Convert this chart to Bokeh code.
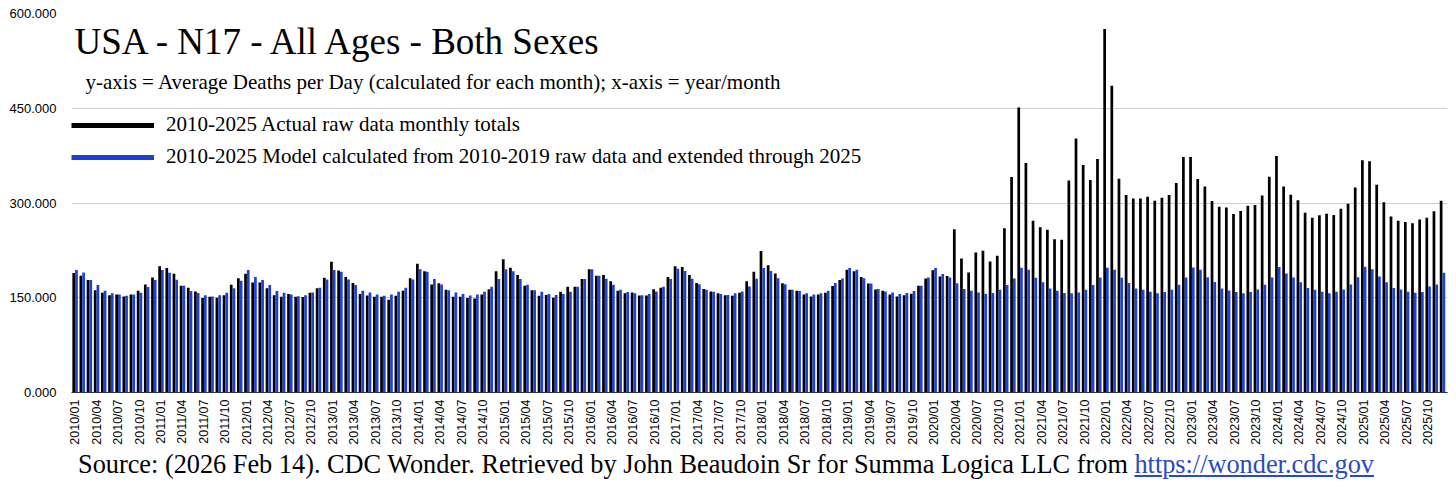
import math
from bokeh.plotting import figure
from bokeh.layouts import column
from bokeh.models import (Range1d, FixedTicker, PrintfTickFormatter, Label, Legend,
                          LegendItem, ColumnDataSource, Div)
from bokeh.transform import dodge
from bokeh.embed import file_html
from bokeh.resources import INLINE

# ---------------- data ----------------
years = list(range(2010, 2026))
months = [f"{y}/{m:02d}" for y in years for m in range(1, 13)]

actual = [
    189, 185, 178, 162, 158, 154, 155, 152, 155, 161, 171, 182,            # 2010
    200, 197, 188, 169, 166, 160, 149.5, 151.5, 150, 154, 170.5, 181,      # 2011
    188, 174, 174, 165, 154, 151.5, 156, 151.5, 151, 158, 165, 181.5,      # 2012
    207, 193, 183, 173.5, 156, 153.5, 151.5, 151.5, 147, 153, 161, 181,    # 2013
    204, 192, 171, 173, 162.5, 151.5, 151.5, 149.5, 149, 155, 163.5, 192,  # 2014
    211, 197.5, 186, 169, 162, 153, 154.5, 150, 159.5, 167.5, 167.5, 179.5,  # 2015
    195, 185, 186, 176, 161, 157, 158.5, 153.5, 153.5, 163.5, 166, 183,    # 2016
    200, 198.5, 186, 173.5, 164, 160, 157, 154, 153, 158, 176, 191,        # 2017
    224, 201.5, 188.5, 173, 162.5, 161, 155, 152, 155, 158, 168.5, 178,    # 2018
    194.5, 192, 183, 172.5, 163, 161, 155, 152, 154, 156.5, 169, 180.5,    # 2019
    193.5, 183.5, 184.5, 258.5, 212, 190, 221.5, 224.5, 207.5, 216.5, 260, 341,  # 2020
    451, 363.5, 272, 261.5, 257.5, 242.5, 242, 335.5, 402, 360, 336.5, 369.5,    # 2021
    575.5, 485.5, 338.5, 312.5, 307, 307, 310, 303.5, 308.5, 312.5, 331.5, 373,  # 2022
    373, 338, 326, 303, 294, 293, 282.5, 287.5, 295.5, 297, 312, 341.5,    # 2023
    374.5, 326, 313, 304.5, 284.5, 276.5, 280.5, 283, 281, 291, 299, 324.5,  # 2024
    367.5, 366, 329, 301, 278.5, 272, 270, 268, 274, 276.5, 287, 303.5,    # 2025
]

model = [
    194, 190, 178, 170, 161, 157, 155, 153, 155, 158, 167, 178,            # 2010
    194, 189.5, 178.5, 169, 160.5, 157.5, 154, 152, 154, 158, 165, 177,    # 2011
    194, 183, 178, 170, 160.5, 158, 155, 152.5, 154, 158.5, 166, 179,      # 2012
    194, 191, 179, 170, 161, 158.5, 155, 153, 155, 159.5, 166, 179,        # 2013
    195, 191, 179.5, 171, 162, 158.5, 156, 153.5, 155, 159.5, 167.5, 179.5,  # 2014
    195, 192, 179.5, 170.5, 162, 159.5, 156, 154.5, 156, 159.5, 167.5, 179.5,  # 2015
    195, 185, 180, 170.5, 162.5, 159, 157, 154, 156, 160, 167.5, 179.5,    # 2016
    196, 192.5, 180, 171.5, 162.5, 159.5, 156, 154.5, 157, 160, 168, 180,  # 2017
    197, 192.5, 181, 171.5, 162.5, 160.5, 157, 155, 157, 161, 173.5, 180.5,  # 2018
    197, 194.5, 181, 172.5, 164, 160, 158.5, 156, 157.5, 160.5, 169, 182,  # 2019
    197, 187.5, 182, 173, 164, 161, 158.5, 156.5, 157.5, 162.5, 170, 180.5,  # 2020
    197.5, 194.5, 181.5, 174.5, 164.5, 161, 157.5, 157, 158.5, 162.5, 170, 182,  # 2021
    197.5, 194.5, 181.5, 173.5, 164.5, 162.5, 159.5, 157, 159, 162.5, 170.5, 182,  # 2022
    198, 194.5, 182.5, 175, 164.5, 161.5, 159, 157, 159, 163, 170.5, 182,  # 2023
    198.5, 188.5, 182, 174.5, 165.5, 162.5, 159.5, 157, 159.5, 163, 171, 182.5,  # 2024
    199, 195, 183.5, 174.5, 165.5, 163, 159.5, 158, 159, 168, 171, 189.5,  # 2025
]

y_ticks = [0, 150, 300, 450, 600]
x_tick_step = 3

title_text = "USA - N17 - All Ages - Both Sexes"
subtitle_text = "y-axis = Average Deaths per Day (calculated for each month); x-axis = year/month"
legend_actual = "2010-2025 Actual raw data monthly totals"
legend_model = "2010-2025 Model calculated from 2010-2019 raw data and extended through 2025"
source_text = "Source: (2026 Feb 14). CDC Wonder. Retrieved by John Beaudoin Sr for Summa Logica LLC from"
source_url = "https://wonder.cdc.gov"

# ---------------- styles ----------------
BLACK = "#000000"
BLUE = "#1f40d8"
LINK = "#2a4ac2"
SERIF = "Liberation Serif"
SANS = "Liberation Sans"

X0, X1 = -0.5, 191.7
FRAME_L, FRAME_R, FRAME_T, FRAME_B = 71, 1447, 13, 392  # page px
FIG_W, FIG_H = 1452, 450


def xd(px):
    return X0 + (px - FRAME_L) * (X1 - X0) / (FRAME_R - FRAME_L)


def yd(py):
    return (FRAME_B - py) * 600 / (FRAME_B - FRAME_T)


src = ColumnDataSource(dict(idx=list(range(len(months))), actual=actual, model=model))

p = figure(width=FIG_W, height=FIG_H, output_backend="svg", toolbar_location=None,
           x_range=Range1d(X0, X1), y_range=Range1d(0, 600),
           min_border_left=FRAME_L, min_border_right=FIG_W - FRAME_R,
           min_border_top=FRAME_T, min_border_bottom=FIG_H - FRAME_B)
p.outline_line_color = None
p.background_fill_color = "white"
p.border_fill_color = "white"

p.xgrid.grid_line_color = None
p.ygrid.ticker = FixedTicker(ticks=y_ticks)
p.ygrid.grid_line_color = "#cccccc"
p.ygrid.grid_line_width = 1

bw = 0.38
p.vbar(x=dodge("idx", -0.19, range=p.x_range), top="actual", width=bw, bottom=0,
       source=src, fill_color=BLACK, line_color=None)
p.vbar(x=dodge("idx", 0.19, range=p.x_range), top="model", width=bw, bottom=0,
       source=src, fill_color=BLUE, line_color=None)

# y axis
p.yaxis.ticker = FixedTicker(ticks=y_ticks)
p.yaxis.formatter = PrintfTickFormatter(format="%.3f")
p.yaxis.axis_line_color = None
p.yaxis.major_tick_line_color = None
p.yaxis.minor_tick_line_color = None
p.yaxis.major_tick_out = 0
p.yaxis.major_tick_in = 0
p.yaxis.minor_tick_out = 0
p.yaxis.minor_tick_in = 0
p.yaxis.major_label_text_font = SANS
p.yaxis.major_label_text_font_size = "13px"
p.yaxis.major_label_text_color = "#000000"
p.yaxis.major_label_standoff = 15

# x axis
xt = list(range(0, len(months), x_tick_step))
p.xaxis.ticker = FixedTicker(ticks=xt)
p.xaxis.major_label_overrides = {i: months[i] for i in xt}
p.xaxis.major_label_orientation = math.pi / 2
p.xaxis.major_tick_line_color = None
p.xaxis.minor_tick_line_color = None
p.xaxis.major_tick_out = 0
p.xaxis.major_tick_in = 0
p.xaxis.minor_tick_out = 0
p.xaxis.minor_tick_in = 0
p.xaxis.axis_line_color = "#333333"
p.xaxis.major_label_text_font = SANS
p.xaxis.major_label_text_font_size = "12.5px"
p.xaxis.major_label_text_color = "#000000"
p.xaxis.major_label_standoff = 7

# legend (key lines only, no visible data)
nan = float("nan")
la = p.line(x=[nan], y=[nan], line_color=BLACK, line_width=5)
lm = p.line(x=[nan], y=[nan], line_color=BLUE, line_width=5)
legend = Legend(items=[LegendItem(label=legend_actual, renderers=[la]),
                       LegendItem(label=legend_model, renderers=[lm])],
                location=(0, 223), orientation="vertical",
                glyph_width=83, glyph_height=24, label_height=24, spacing=7,
                padding=0, margin=0, label_standoff=12,
                border_line_color=None, background_fill_alpha=0,
                label_text_font=SERIF, label_text_font_size="21px",
                label_text_color="#000000")
p.add_layout(legend)

# texts inside the plot area
p.add_layout(Label(x=xd(74), y=yd(41), text=title_text, text_font=SERIF,
                   text_font_size="37px", text_baseline="middle", text_color="#000000"))
p.add_layout(Label(x=xd(85), y=yd(81), text=subtitle_text, text_font=SERIF,
                   text_font_size="21px", text_baseline="middle", text_color="#000000"))

# source line below the chart
src_html = (
    f'<div style="padding-left:78px; font-family:\'{SERIF}\'; font-size:26.3px; '
    f'line-height:30px; white-space:nowrap; color:#000000;">{source_text} '
    f'<a href="{source_url}" style="color:{LINK}; text-decoration:underline;">{source_url}</a></div>'
)
div = Div(text=src_html, width=FIG_W, height=38, margin=(0, 0, 0, 0))

layout = column(p, div, spacing=0)
open("out.html", "w").write(file_html(layout, INLINE))
